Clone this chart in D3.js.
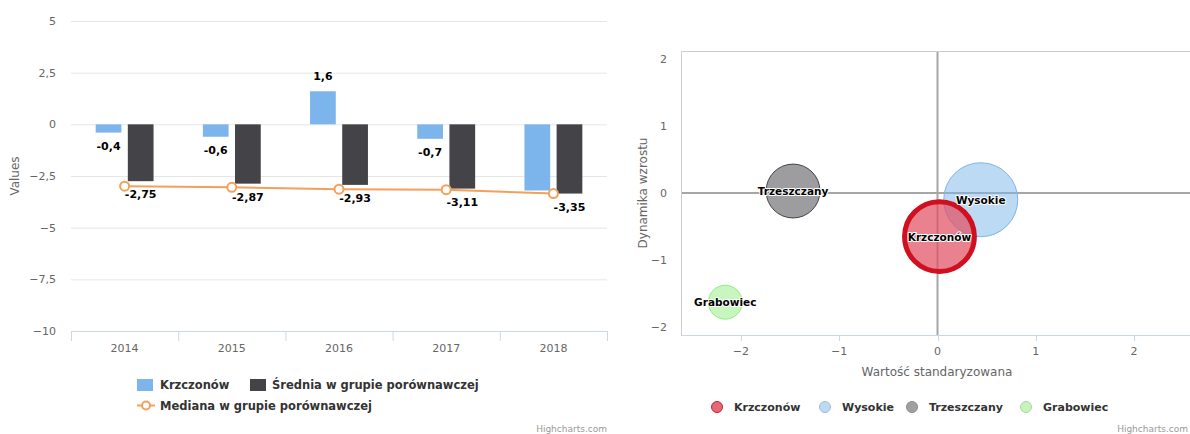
<!DOCTYPE html>
<meta charset="utf-8">
<style>
body { margin: 0; background: #fff; font-family: "DejaVu Sans", sans-serif; }
.grid line { stroke: #e6e6e6; }
.lbl { font-size: 11px; fill: #666; }
.dl { font-size: 11px; font-weight: bold; fill: #000; paint-order: stroke; stroke: #fff; stroke-width: 2px; stroke-linejoin: round; }
.leg { font-weight: bold; fill: #333; }
.credits { font-size: 9px; fill: #999; }
</style>
<body>
<svg width="1190" height="434"></svg>
<script src="https://d3js.org/d3.v7.min.js"></script>
<script>
// left chart data
var years = ["2014", "2015", "2016", "2017", "2018"];
var krzczonow = [-0.4, -0.6, 1.6, -0.7, -3.2];
var srednia = [-2.75, -2.87, -2.93, -3.11, -3.35];
var mediana = [-2.99, -3.05, -3.14, -3.16, -3.35];
var yTicks = [5, 2.5, 0, -2.5, -5, -7.5, -10];

// right chart data
var gminy = ["Krzczonów", "Wysokie", "Trzeszczany", "Grabowiec"];
var wartosc = [0.02, 0.44, -1.47, -2.16];
var dynamika = [-0.65, -0.1, 0.03, -1.63];
var wielkosc = [8.9, 10, 5.3, 2.1];
var xTicksR = [-2, -1, 0, 1, 2];
var yTicksR = [2, 1, 0, -1, -2];

var fmt = function(v) { return String(v).replace(".", ",").replace("-", "\u2212"); };
var fmtDl = function(v) { return String(v).replace(".", ","); };

var svg = d3.select("svg");

// ---------- left: columns + median line ----------
var x0 = d3.scaleBand().domain(years).range([71, 607]).padding(0);
var bw = x0.bandwidth();
var series = ["k", "s"];
var x1 = d3.scaleBand().domain(series).range([0.2 * bw, 0.8 * bw]).paddingInner(0.2).paddingOuter(0.1);
var y = d3.scaleLinear().domain([-10, 5]).range([331, 21]);

var L = svg.append("g");

L.append("g").attr("class", "grid")
  .selectAll("line").data(yTicks.filter(function(t) { return t > -10; })).enter().append("line")
  .attr("x1", 71).attr("x2", 607)
  .attr("y1", function(d) { return y(d) + 0.5; }).attr("y2", function(d) { return y(d) + 0.5; });

L.selectAll(".ylab").data(yTicks).enter().append("text")
  .attr("class", "lbl").attr("text-anchor", "end")
  .attr("x", 56).attr("y", function(d) { return y(d) + 4; })
  .text(fmt);

// x axis
L.append("line").attr("x1", 71).attr("x2", 607).attr("y1", 331.5).attr("y2", 331.5).attr("stroke", "#ccd6eb");
L.selectAll(".xt").data(years.concat(["end"])).enter().append("line")
  .attr("x1", function(d, i) { return 71.5 + i * bw; }).attr("x2", function(d, i) { return 71.5 + i * bw; })
  .attr("y1", 331).attr("y2", 341).attr("stroke", "#ccd6eb");
L.selectAll(".xlab").data(years).enter().append("text")
  .attr("class", "lbl").attr("text-anchor", "middle")
  .attr("x", function(d) { return x0(d) + bw / 2; }).attr("y", 352)
  .text(function(d) { return d; });

L.append("text").attr("class", "lbl").style("font-size", "12px")
  .attr("transform", "translate(19,176) rotate(-90)").attr("text-anchor", "middle")
  .text("Values");

var colK = "#7cb5ec", colS = "#434348", colM = "#f3a05a";

function bars(vals, key, col) {
  L.selectAll(".bar-" + key).data(vals).enter().append("rect")
    .attr("x", function(d, i) { return x0(years[i]) + x1(key); })
    .attr("width", x1.bandwidth())
    .attr("y", function(d) { return Math.min(y(d), y(0)); })
    .attr("height", function(d) { return Math.abs(y(d) - y(0)); })
    .attr("fill", col);
}
bars(krzczonow, "k", colK);
bars(srednia, "s", colS);

// median line
var line = d3.line().x(function(d, i) { return x0(years[i]) + bw / 2; }).y(function(d) { return y(d); });
L.append("path").datum(mediana).attr("d", line).attr("fill", "none").attr("stroke", colM).attr("stroke-width", 2);
L.selectAll(".mk").data(mediana).enter().append("circle")
  .attr("cx", function(d, i) { return x0(years[i]) + bw / 2; }).attr("cy", function(d) { return y(d); })
  .attr("r", 4.5).attr("fill", "#fff").attr("stroke", colM).attr("stroke-width", 2);

// data labels, skipping ones that collide
var boxes = [];
function labels(vals, key) {
  vals.forEach(function(v, i) {
    var cx = x0(years[i]) + x1(key) + x1.bandwidth() / 2;
    var by = v < 0 ? y(v) + 17 : y(v) - 11;
    var t = L.append("text").attr("class", "dl").attr("text-anchor", "middle")
      .attr("x", cx).attr("y", by).text(fmtDl(v));
    var b = t.node().getBBox();
    var hit = boxes.some(function(o) {
      return b.x - 10 < o.x + o.width && b.x + b.width + 10 > o.x && b.y < o.y + o.height && b.y + b.height > o.y;
    });
    if (hit) t.remove(); else boxes.push(b);
  });
}
labels(srednia, "s");
labels(krzczonow, "k");

// left legend
var lg = L.append("g").attr("class", "leg").style("font-size", "11.5px");
lg.append("rect").attr("x", 137).attr("y", 379).attr("width", 16).attr("height", 12).attr("fill", colK);
lg.append("text").attr("x", 160).attr("y", 389).text("Krzczonów");
lg.append("rect").attr("x", 250).attr("y", 379).attr("width", 16).attr("height", 12).attr("fill", colS);
lg.append("text").attr("x", 272).attr("y", 389).text("Średnia w grupie porównawczej");
lg.append("line").attr("x1", 137).attr("x2", 155).attr("y1", 405.5).attr("y2", 405.5).attr("stroke", colM).attr("stroke-width", 2);
lg.append("circle").attr("cx", 146).attr("cy", 405.5).attr("r", 4).attr("fill", "#fff").attr("stroke", colM).attr("stroke-width", 2);
lg.append("text").attr("x", 160).attr("y", 410).text("Mediana w grupie porównawczej");

L.append("text").attr("class", "credits").attr("text-anchor", "end").attr("x", 607).attr("y", 432).text("Highcharts.com");

// ---------- right: bubbles ----------
var xr = d3.scaleLinear().domain([-2.6, 2.6]).range([682, 1193]);
var yr = d3.scaleLinear().domain([-2.13, 2.11]).range([335.7, 51.7]);
var rr = d3.scaleSqrt().domain([0, 10]).range([0, 37]);

var fills = ["rgba(226,80,100,0.72)", "rgba(124,181,236,0.5)", "rgba(67,67,72,0.52)", "rgba(144,237,125,0.5)"];
var strokes = ["#d0101e", "#7cb5ec", "#434348", "#90ed7d"];
var sw = [5, 1, 1, 1];
var legFill = ["#e46876", "#bcd9f5", "#a0a0a3", "#c6f5bc"];

var R = svg.append("g");

// plot border top/left, axis bottom
R.append("line").attr("x1", 681.5).attr("x2", 1193).attr("y1", 51.5).attr("y2", 51.5).attr("stroke", "#cccccc");
R.append("line").attr("x1", 681.5).attr("x2", 681.5).attr("y1", 51.5).attr("y2", 336).attr("stroke", "#cccccc");
R.append("line").attr("x1", 681.5).attr("x2", 1193).attr("y1", 335.5).attr("y2", 335.5).attr("stroke", "#ccd6eb");
R.selectAll(".xt").data(xTicksR).enter().append("line")
  .attr("x1", function(d) { return Math.round(xr(d)) + 0.5; }).attr("x2", function(d) { return Math.round(xr(d)) + 0.5; })
  .attr("y1", 336).attr("y2", 341).attr("stroke", "#ccd6eb");

// zero plot lines
R.append("line").attr("x1", xr(0)).attr("x2", xr(0)).attr("y1", 52).attr("y2", 335).attr("stroke", "#a6a6a6").attr("stroke-width", 2);
R.append("line").attr("x1", 682).attr("x2", 1193).attr("y1", yr(0)).attr("y2", yr(0)).attr("stroke", "#a6a6a6").attr("stroke-width", 2);

R.selectAll(".xl").data(xTicksR).enter().append("text")
  .attr("class", "lbl").attr("text-anchor", "middle")
  .attr("x", function(d) { return xr(d); }).attr("y", 355).text(fmt);
R.selectAll(".yl").data(yTicksR).enter().append("text")
  .attr("class", "lbl").attr("text-anchor", "end")
  .attr("x", 667).attr("y", function(d) { return yr(d) + 4; }).text(fmt);

R.append("text").attr("class", "lbl").style("font-size", "12px").attr("text-anchor", "middle")
  .attr("x", 937).attr("y", 376).text("Wartość standaryzowana");
R.append("text").attr("class", "lbl").style("font-size", "12px").attr("text-anchor", "middle")
  .attr("transform", "translate(647,193) rotate(-90)").text("Dynamika wzrostu");

// draw order so the red one sits on top
var order = [2, 3, 1, 0];
R.selectAll(".bub").data(order).enter().append("circle")
  .attr("cx", function(i) { return xr(wartosc[i]); })
  .attr("cy", function(i) { return yr(dynamika[i]); })
  .attr("r", function(i) { return rr(wielkosc[i]); })
  .attr("fill", function(i) { return fills[i]; })
  .attr("stroke", function(i) { return strokes[i]; })
  .attr("stroke-width", function(i) { return sw[i]; });

R.selectAll(".bl").data(order).enter().append("text")
  .attr("class", "dl").style("font-size", "10.5px").attr("text-anchor", "middle")
  .attr("x", function(i) { return xr(wartosc[i]); })
  .attr("y", function(i) { return yr(dynamika[i]) + 4; })
  .text(function(i) { return gminy[i]; });

// right legend
var legX = [717, 825, 912, 1026];
var rl = R.append("g").attr("class", "leg").style("font-size", "11px");
gminy.forEach(function(g, i) {
  rl.append("circle").attr("cx", legX[i]).attr("cy", 407).attr("r", 5.5)
    .attr("fill", legFill[i]).attr("stroke", i === 0 ? "#c8202e" : d3.color(legFill[i]).darker(0.4)).attr("stroke-width", 1);
  rl.append("text").attr("x", legX[i] + 17).attr("y", 411).text(g);
});

R.append("text").attr("class", "credits").attr("text-anchor", "end").attr("x", 1188).attr("y", 432).text("Highcharts.com");
</script>
</body>
